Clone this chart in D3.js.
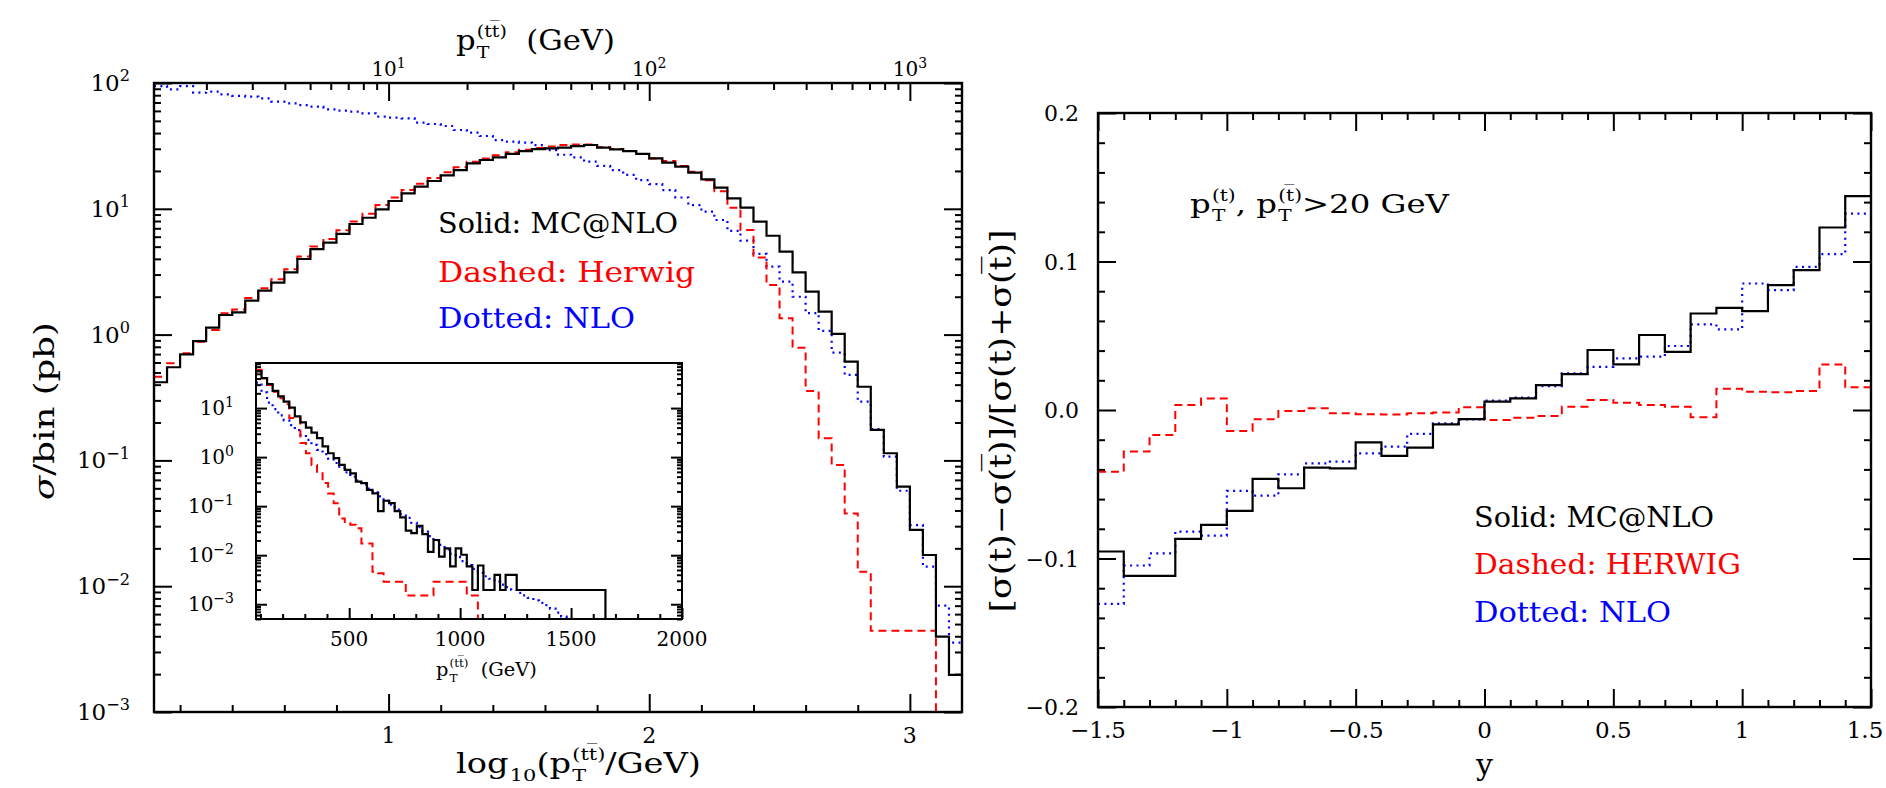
<!DOCTYPE html>
<html>
<head>
<meta charset="utf-8">
<script src="https://cdn.jsdelivr.net/npm/d3@7"></script>
<style>
  body { margin: 0; background: #fff; }
  svg { display: block; font-family: "DejaVu Serif", serif; }
  text { white-space: pre; }
</style>
</head>
<body>
<svg id="chart" width="1886" height="788"></svg>
<script>
// ---- DATA ----
// main panel: bins of log10(pT/GeV), width 0.05, first bin starts at 0.10
const mainBinStart = 0.1;
const mainBinWidth = 0.05;
const mcnloMain = [0.418, 0.550, 0.697, 0.889, 1.135, 1.432, 1.503, 1.862, 2.234, 2.588,
  3.126, 3.990, 4.786, 5.383, 6.310, 7.568, 8.492, 9.908, 11.53, 13.27,
  15.00, 16.63, 18.45, 20.32, 22.96, 24.43, 25.65, 27.29, 28.77, 29.85,
  30.27, 30.62, 31.55, 32.14, 30.62, 29.72, 28.77, 27.29, 25.18, 23.28,
  21.63, 19.36, 17.14, 14.72, 12.11, 10.21, 7.907, 6.109, 4.560, 3.126,
  2.193, 1.521, 1.012, 0.610, 0.385, 0.175, 0.114, 0.0618, 0.0280, 0.0177,
  0.00397, 0.00197];
const herwigMain = [0.463, 0.592, 0.710, 0.879, 1.09, 1.48, 1.58, 1.95, 2.34, 2.75,
  3.31, 4.17, 5.01, 5.75, 6.76, 7.94, 9.12, 10.7, 12.3, 14.1,
  15.8, 17.6, 19.5, 21.4, 23.7, 25.1, 26.6, 28.2, 29.5, 30.5,
  31.3, 32.1, 32.5, 32.4, 30.9, 29.9, 28.8, 27.3, 25.1, 24.0,
  21.9, 19.7, 16.9, 13.8, 10.2, 6.78, 4.11, 2.48, 1.35, 0.787,
  0.356, 0.150, 0.0918, 0.0379, 0.0130, 0.00443, 0.00443, 0.00443, 0.00443, 0.00443,
  0, 0];
const nloMain = [94.6, 89.1, 94.6, 83.8, 85.3, 81.3, 78.9, 78.0, 75.5, 71.0,
  68.9, 66.8, 64.9, 61.8, 60.3, 59.2, 57.4, 54.0, 53.0, 52.4,
  48.4, 47.2, 45.5, 42.3, 40.3, 37.9, 35.2, 34.2, 33.6, 32.1,
  29.3, 26.9, 25.6, 23.7, 21.9, 20.3, 18.6, 16.9, 15.7, 14.1,
  12.3, 10.7, 9.48, 8.15, 6.67, 5.58, 4.38, 3.47, 2.64, 2.00,
  1.48, 1.07, 0.718, 0.478, 0.293, 0.177, 0.107, 0.0574, 0.0306, 0.0143,
  0.00700, 0.00356];

// inset: linear pT (GeV), bins of 25 GeV starting at 80 GeV
const insetBinStart = 80;
const insetBinWidth = 25;
const mcnloInset = [56.2, 40.7, 30.9, 22.4, 17.4, 13.5, 10.2, 6.76, 5.13, 3.98,
  3.16, 2.45, 1.66, 1.20, 0.955, 0.692, 0.550, 0.468, 0.316, 0.295,
  0.214, 0.182, 0.0794, 0.129, 0.115, 0.0794, 0.0589, 0.0316, 0.0282, 0.0398,
  0.0269, 0.0117, 0.0204, 0.00933, 0.0138, 0.00589, 0.0138, 0.0102, 0.00589, 0.00195,
  0.00617, 0.00195, 0.00195, 0.00398, 0.00195, 0.00398, 0.00398, 0.00195, 0.00195, 0.00195,
  0.00195, 0.00195, 0.00195, 0.00195, 0.00195, 0.00195, 0.00195, 0.00195, 0.00195, 0.00195,
  0.00195, 0.00195, 0.00195];
const herwigInset = [60.3, 40.7, 29.5, 21.4, 15.8, 12.0, 6.31, 6.31, 1.95, 1.20,
  0.692, 0.468, 0.295, 0.182, 0.115, 0.0562, 0.0447, 0.0417, 0.0355, 0.0174,
  0.0174, 0.00457, 0.00427, 0.00288, 0.00288, 0.00288, 0.00288, 0.00151, 0.00151, 0.00151,
  0.00151, 0.00151, 0.00288, 0.00288, 0.00288, 0.00288, 0.00288, 0.00288, 0.00151, 0.00151];
const nloInset = [33.1, 20.9, 12.9, 9.55, 7.08, 5.62, 4.47, 3.55, 2.82, 2.24,
  1.78, 1.41, 1.15, 0.933, 0.759, 0.603, 0.490, 0.398, 0.331, 0.275,
  0.229, 0.191, 0.158, 0.129, 0.107, 0.0851, 0.0692, 0.0575, 0.0457, 0.0372,
  0.0302, 0.0245, 0.0200, 0.0162, 0.0132, 0.0107, 0.00912, 0.00759, 0.00631, 0.00525,
  0.00437, 0.00372, 0.00331, 0.00288, 0.00251, 0.00224, 0.00195, 0.00170, 0.00151, 0.00135,
  0.00120, 0.00107, 0.000955, 0.000813, 0.000676, 0.000562, 0.000468];

// right panel: asymmetry vs y, bins of 0.1 from -1.5 to 1.5
const asymBinStart = -1.5;
const asymBinWidth = 0.1;
const mcnloAsym = [-0.0953, -0.1117, -0.1117, -0.0868, -0.0774, -0.0679, -0.0464, -0.0527, -0.0388, -0.0393,
  -0.0218, -0.0309, -0.0253, -0.0097, -0.0061, 0.0056, 0.0078, 0.0168, 0.0242, 0.0404,
  0.0307, 0.0505, 0.0392, 0.0650, 0.0688, 0.0666, 0.0841, 0.0942, 0.1229, 0.1440];
const herwigAsym = [-0.0415, -0.0280, -0.0168, 0.0034, 0.0078, -0.0141, -0.0063, -0.0007, 0.0011, -0.0022,
  -0.0029, -0.0031, -0.0022, -0.0016, 0.0018, -0.0067, -0.0052, -0.0040, 0.0022, 0.0067,
  0.0049, 0.0034, 0.0022, -0.0049, 0.0143, 0.0123, 0.0119, 0.0128, 0.0307, 0.0153];
const nloAsym = [-0.1305, -0.1047, -0.0965, -0.0819, -0.0846, -0.0545, -0.0576, -0.0433, -0.0359, -0.0348,
  -0.0292, -0.0247, -0.0161, -0.0090, -0.0063, 0.0063, 0.0083, 0.0161, 0.0247, 0.0291,
  0.0348, 0.0359, 0.0431, 0.0577, 0.0543, 0.0852, 0.0807, 0.0964, 0.1049, 0.1323];

// tick labels
const mainXLabels = [1, 2, 3];
const topXLabels = [10, 100, 1000];
const insetXLabels = [500, 1000, 1500, 2000];
const asymXLabels = [-1.5, -1, -0.5, 0, 0.5, 1, 1.5];
const asymYLabels = [-0.2, -0.1, 0, 0.1, 0.2];

// ---- SETUP ----
const svg = d3.select('#chart');
const W = +svg.attr('width');

const main = { left: 154, right: 962, top: 83, bottom: 712 };
const inset = { left: 256, right: 682, top: 363, bottom: 619 };
const asym = { left: 1098, right: 1871, top: 113, bottom: 707 };

const xMain = d3.scaleLinear().domain([0.1, 3.2]).range([main.left, main.right]);
const yMain = d3.scaleLog().domain([1e-3, 1e2]).range([main.bottom, main.top]);
const xTop = d3.scaleLog().domain([Math.pow(10, 0.1), Math.pow(10, 3.2)]).range([main.left, main.right]);
const xIn = d3.scaleLinear().domain([80, 2000]).range([inset.left, inset.right]);
const yIn = d3.scaleLog().domain([5e-4, 83]).range([inset.bottom, inset.top]);
const xR = d3.scaleLinear().domain([-1.5, 1.5]).range([asym.left, asym.right]);
const yR = d3.scaleLinear().domain([-0.2, 0.2]).range([asym.bottom, asym.top]);

const edges = (start, width, n) => d3.range(n + 1).map((i) => +(start + width * i).toFixed(4));
const mainEdges = edges(mainBinStart, mainBinWidth, mcnloMain.length);
const insetEdges = edges(insetBinStart, insetBinWidth, mcnloInset.length);
const asymEdges = edges(asymBinStart, asymBinWidth, mcnloAsym.length);

function logTicks(lo, hi) {
  const out = [];
  for (let e = Math.floor(Math.log10(lo)); e <= Math.ceil(Math.log10(hi)); e++) {
    for (let k = 1; k < 10; k++) {
      const v = k * Math.pow(10, e);
      if (v >= lo * 0.999 && v <= hi * 1.001) out.push({ v, major: k === 1 });
    }
  }
  return out;
}

function linTicks(lo, hi, step, majorStep) {
  return d3.range(Math.round((hi - lo) / step) + 1).map((i) => {
    const v = +(lo + i * step).toFixed(4);
    const r = v / majorStep;
    return { v, major: Math.abs(r - Math.round(r)) < 1e-6 };
  });
}

function tickSet(axis, transform, values, size) {
  svg.append('g')
    .attr('transform', transform)
    .call(axis.tickValues(values).tickSize(size).tickFormat(''))
    .call((g) => {
      g.select('.domain').remove();
      g.selectAll('line').attr('stroke', '#000').attr('stroke-width', 2);
    });
}

function frameTicks(f, xs, ys, xt, yt, majorLen, minorLen, opts) {
  const xMaj = xt.filter((d) => d.major).map((d) => d.v);
  const xMin = xt.filter((d) => !d.major).map((d) => d.v);
  const yMaj = yt.filter((d) => d.major).map((d) => d.v);
  const yMin = yt.filter((d) => !d.major).map((d) => d.v);
  tickSet(d3.axisBottom(xs), `translate(0,${f.bottom})`, xMaj, -majorLen);
  tickSet(d3.axisBottom(xs), `translate(0,${f.bottom})`, xMin, -minorLen);
  if (opts.top) {
    tickSet(d3.axisTop(xs), `translate(0,${f.top})`, xMaj, -majorLen);
    tickSet(d3.axisTop(xs), `translate(0,${f.top})`, xMin, -minorLen);
  }
  tickSet(d3.axisLeft(ys), `translate(${f.left},0)`, yMaj, -majorLen);
  tickSet(d3.axisLeft(ys), `translate(${f.left},0)`, yMin, -minorLen);
  tickSet(d3.axisRight(ys), `translate(${f.right},0)`, yMaj, -majorLen);
  tickSet(d3.axisRight(ys), `translate(${f.right},0)`, yMin, -minorLen);
}

function frame(f, width) {
  svg.append('rect')
    .attr('x', f.left).attr('y', f.top)
    .attr('width', f.right - f.left).attr('height', f.bottom - f.top)
    .attr('fill', 'none').attr('stroke', '#000').attr('stroke-width', width);
}

function clip(id, f) {
  svg.append('clipPath').attr('id', id)
    .append('rect')
    .attr('x', f.left).attr('y', f.top)
    .attr('width', f.right - f.left).attr('height', f.bottom - f.top);
}

function histPath(edgeList, values, xs, ys, dropTo) {
  const pts = values.map((v, i) => [xs(edgeList[i]), ys(v)]);
  const last = values[values.length - 1];
  pts.push([xs(edgeList[values.length]), dropTo === undefined ? ys(last) : dropTo]);
  return d3.line().curve(d3.curveStepAfter)(pts);
}

const styles = {
  mcnlo: { stroke: '#000', width: 2.2, dash: null },
  herwig: { stroke: '#ff0000', width: 2, dash: '8,5' },
  nlo: { stroke: '#0000ff', width: 2.2, dash: '2,4.4' },
};

function drawHist(clipId, d, style) {
  svg.append('path')
    .attr('clip-path', `url(#${clipId})`)
    .attr('d', d)
    .attr('fill', 'none')
    .attr('stroke', style.stroke)
    .attr('stroke-width', style.width)
    .attr('stroke-dasharray', style.dash);
}

function powLabel(x, y, exp, anchor, size) {
  const t = svg.append('text')
    .attr('x', x).attr('y', y)
    .attr('text-anchor', anchor)
    .attr('font-size', size)
    .text('10');
  t.append('tspan')
    .attr('dy', -size * 0.42)
    .attr('font-size', size * 0.7)
    .text(exp < 0 ? '\u2212' + -exp : '' + exp);
}

function richText(x, y, fs, parts, targetWidth, fill) {
  const grp = svg.append('g').attr('transform', `translate(${x},${y})`);
  const inner = grp.append('g').attr('fill', fill || '#000');
  let cx = 0;
  parts.forEach((p) => {
    if (typeof p === 'string') {
      const t = inner.append('text').attr('x', cx).attr('font-size', fs).text(p);
      cx += t.node().getComputedTextLength();
    } else {
      let w = 0;
      if (p.sub) {
        const t = inner.append('text').attr('x', cx + 1).attr('y', fs * 0.3).attr('font-size', fs * 0.62).text(p.sub);
        w = Math.max(w, t.node().getComputedTextLength() + 1);
      }
      if (p.sup) {
        const t = inner.append('text').attr('x', cx + 1).attr('y', -fs * 0.48).attr('font-size', fs * 0.62).text(p.sup);
        w = Math.max(w, t.node().getComputedTextLength() + 1);
      }
      cx += w;
    }
  });
  if (targetWidth) inner.attr('transform', `scale(${targetWidth / cx},1)`);
  return grp;
}

function legendText(x, y, str, color, len, size) {
  svg.append('text')
    .attr('x', x).attr('y', y)
    .attr('font-size', size)
    .attr('fill', color)
    .attr('textLength', len)
    .attr('lengthAdjust', 'spacingAndGlyphs')
    .text(str);
}

const ttbar = '(tt\u0305)';

// ================= LEFT PANEL =================
clip('clipMain', main);
clip('clipInset', inset);
clip('clipAsym', asym);

frameTicks(main, xMain, yMain,
  linTicks(0.2, 3.0, 0.2, 1),
  logTicks(1e-3, 1e2), 18, 7, { top: false });

// top pT axis
const topT = logTicks(xTop.domain()[0], xTop.domain()[1]);
tickSet(d3.axisTop(xTop), `translate(0,${main.top})`, topT.filter((d) => d.major).map((d) => d.v), -18);
tickSet(d3.axisTop(xTop), `translate(0,${main.top})`, topT.filter((d) => !d.major).map((d) => d.v), -7);

const yMainMajor = logTicks(1e-3, 1e2).filter((d) => d.major).map((d) => d.v);
yMainMajor.forEach((v) => powLabel(130, yMain(v) + 8, Math.round(Math.log10(v)), 'end', 23));
topXLabels.forEach((v) => powLabel(xTop(v), 76, Math.round(Math.log10(v)), 'middle', 20));
svg.append('g').selectAll('text').data(mainXLabels).join('text')
  .attr('x', (d) => xMain(d)).attr('y', 743)
  .attr('text-anchor', 'middle').attr('font-size', 22)
  .text((d) => d);

const yMainV = (v) => (v > 0 ? yMain(v) : main.bottom + 12);
drawHist('clipMain', histPath(mainEdges, nloMain, xMain, yMainV), styles.nlo);
drawHist('clipMain', histPath(mainEdges, herwigMain, xMain, yMainV), styles.herwig);
drawHist('clipMain', histPath(mainEdges, mcnloMain, xMain, yMainV), styles.mcnlo);

frame(main, 2.4);

// axis titles
richText(456, 50, 28, ['p', { sub: 'T', sup: ttbar }, '  (GeV)'], 159);
richText(456, 773, 28, ['log', { sub: '10' }, '(p', { sub: 'T', sup: ttbar }, '/GeV)'], 245);

const yLab = svg.append('text')
  .attr('transform', 'translate(54,411) rotate(-90)')
  .attr('text-anchor', 'middle')
  .attr('font-size', 28)
  .attr('textLength', 178)
  .attr('lengthAdjust', 'spacingAndGlyphs');
yLab.append('tspan').attr('font-style', 'italic').text('\u03c3');
yLab.append('tspan').text('/bin (pb)');

// legend
legendText(438, 233, 'Solid: MC@NLO', '#000', 240, 28);
legendText(438, 282, 'Dashed: Herwig', '#ff0000', 257, 28);
legendText(438, 328, 'Dotted: NLO', '#0000ff', 197, 28);

// ---- inset ----
svg.append('rect')
  .attr('x', inset.left).attr('y', inset.top)
  .attr('width', inset.right - inset.left).attr('height', inset.bottom - inset.top)
  .attr('fill', '#fff');

const inT = logTicks(5e-4, 83);
const inXT = linTicks(100, 2000, 100, 500);
const inXMaj = inXT.filter((d) => d.major).map((d) => d.v);
const inXMin = inXT.filter((d) => !d.major).map((d) => d.v);
tickSet(d3.axisBottom(xIn), `translate(0,${inset.bottom})`, inXMaj, -11);
tickSet(d3.axisBottom(xIn), `translate(0,${inset.bottom})`, inXMin, -5);
[['axisLeft', inset.left], ['axisRight', inset.right]].forEach(([fn, x]) => {
  tickSet(d3[fn](yIn), `translate(${x},0)`, inT.filter((d) => d.major).map((d) => d.v), -11);
  tickSet(d3[fn](yIn), `translate(${x},0)`, inT.filter((d) => !d.major).map((d) => d.v), -5);
});

const yInV = (v) => (v > 0 ? yIn(v) : inset.bottom + 12);
drawHist('clipInset', histPath(insetEdges, nloInset, xIn, yInV, inset.bottom + 12), styles.nlo);
drawHist('clipInset', histPath(insetEdges, herwigInset, xIn, yInV, inset.bottom + 12), styles.herwig);
drawHist('clipInset', histPath(insetEdges, mcnloInset, xIn, yInV, inset.bottom + 12), styles.mcnlo);

frame(inset, 2);

inT.filter((d) => d.major).forEach((d) =>
  powLabel(234, yIn(d.v) + 7, Math.round(Math.log10(d.v)), 'end', 20));
svg.append('g').selectAll('text').data(insetXLabels).join('text')
  .attr('x', (d) => xIn(d)).attr('y', 646)
  .attr('text-anchor', 'middle').attr('font-size', 20)
  .text((d) => d);
richText(436, 676, 19, ['p', { sub: 'T', sup: ttbar }, '  (GeV)'], 101);

// ================= RIGHT PANEL =================
frameTicks(asym, xR, yR,
  linTicks(-1.5, 1.5, 0.1, 0.5),
  linTicks(-0.2, 0.2, 0.02, 0.1), 18, 7, { top: true });

drawHist('clipAsym', histPath(asymEdges, herwigAsym, xR, yR), styles.herwig);
drawHist('clipAsym', histPath(asymEdges, nloAsym, xR, yR), styles.nlo);
drawHist('clipAsym', histPath(asymEdges, mcnloAsym, xR, yR), styles.mcnlo);

frame(asym, 2.4);

svg.append('g').selectAll('text').data(asymYLabels).join('text')
  .attr('x', 1079).attr('y', (d) => yR(d) + 8)
  .attr('text-anchor', 'end').attr('font-size', 22)
  .text((d) => d3.format('.1f')(d));
// keep the last label inside the page, as in the reference
svg.append('g').selectAll('text').data(asymXLabels).join('text')
  .attr('x', (d) => Math.min(xR(d), W - 21))
  .attr('y', 738)
  .attr('text-anchor', 'middle').attr('font-size', 23)
  .text((d) => d3.format('')(d));

svg.append('text')
  .attr('x', xR(0)).attr('y', 775)
  .attr('text-anchor', 'middle').attr('font-size', 30)
  .text('y');

svg.append('text')
  .attr('transform', 'translate(1011,421) rotate(-90)')
  .attr('text-anchor', 'middle')
  .attr('font-size', 30)
  .attr('textLength', 383)
  .attr('lengthAdjust', 'spacingAndGlyphs')
  .text('[\u03c3(t)\u2212\u03c3(t\u0305)]/[\u03c3(t)+\u03c3(t\u0305)]');

richText(1190, 213, 26, ['p', { sub: 'T', sup: '(t)' }, ', p', { sub: 'T', sup: '(t\u0305)' }, '>20 GeV'], 259);

legendText(1474, 527, 'Solid: MC@NLO', '#000', 240, 28);
legendText(1474, 574, 'Dashed: HERWIG', '#ff0000', 267, 28);
legendText(1474, 622, 'Dotted: NLO', '#0000ff', 197, 28);
</script>
</body>
</html>
